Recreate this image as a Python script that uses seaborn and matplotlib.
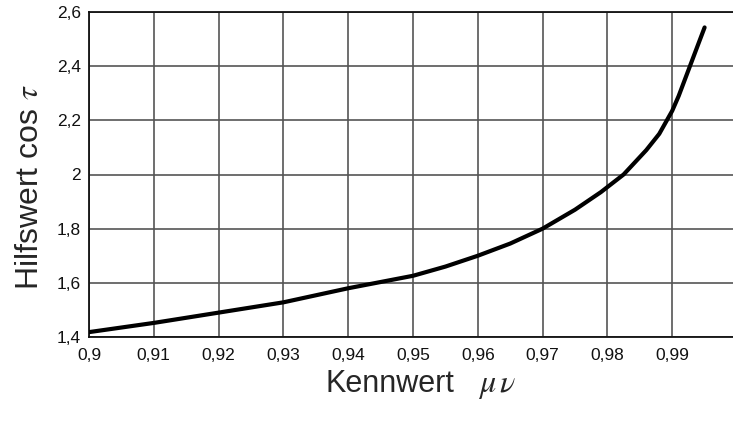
import numpy as np
import pandas as pd
import matplotlib
matplotlib.use("Agg")
import matplotlib.pyplot as plt
import matplotlib.ticker as mticker
import seaborn as sns

# Kennwert (mu*nu) und Hilfswert cos tau
kennwert = [0.900, 0.910, 0.920, 0.930, 0.940, 0.950, 0.955, 0.960, 0.965, 0.970,
            0.975, 0.979, 0.9825, 0.986, 0.988, 0.990, 0.991, 0.9925, 0.994, 0.995]
hilfswert = [1.418, 1.452, 1.490, 1.528, 1.580, 1.626, 1.660, 1.700, 1.745, 1.800,
             1.870, 1.935, 2.000, 2.090, 2.150, 2.235, 2.290, 2.385, 2.480, 2.543]
x_ticks = [0.90, 0.91, 0.92, 0.93, 0.94, 0.95, 0.96, 0.97, 0.98, 0.99, 1.00]
y_ticks = [1.4, 1.6, 1.8, 2.0, 2.2, 2.4, 2.6]

df = pd.DataFrame({"kennwert": kennwert, "hilfswert": hilfswert})

sns.set_style("white")
plt.rcParams["font.family"] = ["Liberation Sans", "DejaVu Sans"]
plt.rcParams["mathtext.fontset"] = "stix"

fig = plt.figure(figsize=(7.33, 4.22), dpi=100)
ax = fig.add_axes([89 / 733, 85 / 422, 648 / 733, 325 / 422])

sns.lineplot(data=df, x="kennwert", y="hilfswert", ax=ax, color="black",
             linewidth=3.0, zorder=3)

ax.set_xlim(0.9, 1.0)
ax.set_ylim(1.4, 2.6)
ax.set_xticks(x_ticks)
ax.set_yticks(y_ticks)

fmt = mticker.FuncFormatter(lambda v, p: ("%g" % round(v, 3)).replace(".", ","))
ax.xaxis.set_major_formatter(fmt)
ax.yaxis.set_major_formatter(fmt)

ax.grid(True, color="#555555", linewidth=1.2)
ax.tick_params(axis="x", length=0, labelsize=12.5, colors="#111111", pad=8)
ax.tick_params(axis="y", length=0, labelsize=12.5, colors="#111111", pad=6)
for side in ["left", "bottom", "top"]:
    ax.spines[side].set_color("#111111")
    ax.spines[side].set_linewidth(1.3)
ax.spines["right"].set_visible(False)

# Achsentitel
ax.set_xlabel("Kennwert", fontsize=22)
ax.xaxis.set_label_coords(0.4645, -0.097)
ax.text(0.600, -0.169, r"$\mu\,\nu$", transform=ax.transAxes, fontsize=23,
        ha="left", va="baseline")
ax.set_ylabel(r"Hilfswert cos $\tau$", fontsize=23)
ax.yaxis.set_label_coords(-0.068, 0.46)

fig.savefig("out.png", dpi=100)
